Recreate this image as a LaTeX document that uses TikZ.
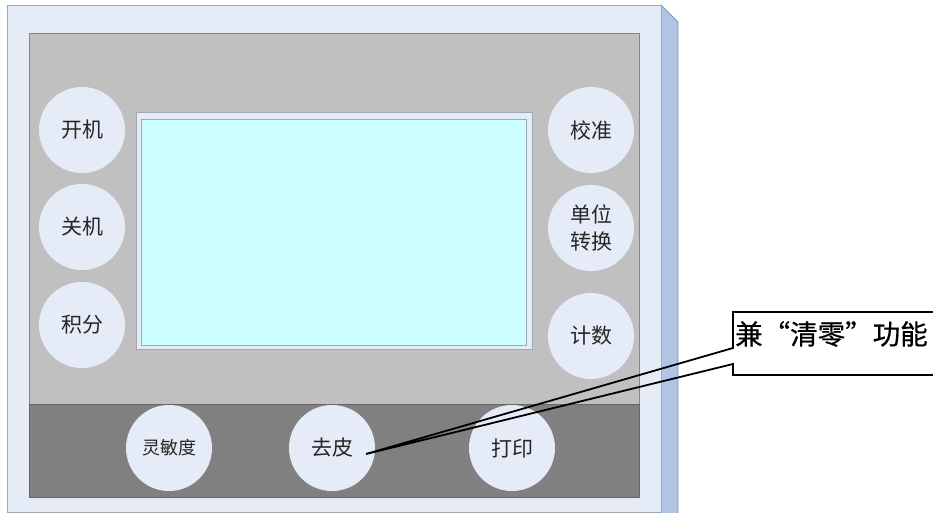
\documentclass[tikz,border=0pt]{standalone}
\usepackage{fontspec}
\setmainfont{Noto Sans CJK SC}
\newfontfamily\notefont[FakeBold=0.6]{Noto Sans CJK SC}
\begin{document}
\begin{tikzpicture}[x=1pt,y=-1pt,
  btn/.style={circle,fill=btnfill,draw=none,minimum size=86pt,inner sep=0pt,
    text=black!85,font=\fontsize{21}{30}\selectfont,align=center},
  smallbtn/.style={btn,font=\fontsize{18}{24}\selectfont},
  callout/.style={draw=black,line width=1.8pt,line join=miter}]
\definecolor{panel}{HTML}{E6ECF7}
\definecolor{panelborder}{HTML}{A0A8B4}
\definecolor{sideface}{HTML}{B0C4E4}
\definecolor{sideborder}{HTML}{8494B4}
\definecolor{midgray}{HTML}{C0C0C0}
\definecolor{darkgray}{HTML}{808080}
\definecolor{screen}{HTML}{CCFFFF}
\definecolor{btnfill}{HTML}{E6ECF7}
\useasboundingbox (0,0) rectangle (933,513);
\clip (0,0) rectangle (933,513);
% side face
\fill[sideface,draw=sideborder,line width=0.8pt] (661,5) -- (678,22) -- (678,520) -- (661,520) -- cycle;
% outer panel
\node[draw=panelborder,fill=panel,line width=0.8pt,minimum width=654pt,minimum height=507pt,anchor=north west,inner sep=0pt] (panel) at (7,5) {};
% inner gray
\node[draw=panelborder!80!black,fill=midgray,line width=0.8pt,minimum width=610pt,minimum height=464pt,anchor=north west,inner sep=0pt] (inner) at (29,33) {};
% dark band
\node[draw=darkgray!80!black,fill=darkgray,line width=0.6pt,minimum width=610pt,minimum height=93pt,anchor=north west,inner sep=0pt] (band) at (29,404) {};
% display
\node[draw=panelborder,fill=panel,line width=0.8pt,minimum width=396pt,minimum height=237pt,anchor=north west,inner sep=0pt] (frame) at (136,112) {};
\node[draw=panelborder,fill=screen,line width=0.6pt,minimum width=385pt,minimum height=226pt,anchor=north west,inner sep=0pt] (screen) at (141,119) {};
% left buttons
\node[btn] (on) at (82,130) {开机};
\node[btn] (off) at (82,227) {关机};
\node[btn] (integ) at (82,325) {积分};
% right buttons
\node[btn] (cal) at (591,130) {校准};
\node[btn] (unit) at (591,228) {单位\\[-3pt]转换};
\node[btn] (count) at (591,336) {计数};
% bottom buttons
\node[smallbtn] (sens) at (169,448) {灵敏度};
\node[btn] (tare) at (332,448) {去皮};
\node[btn] (print) at (512,448) {打印};
% callout
\coordinate (tip) at (366,454);
\coordinate (cA) at (733,312);
\coordinate (cB) at (945,312);
\coordinate (cC) at (945,375);
\coordinate (cD) at (733,375);
\coordinate (cE) at (733,364);
\coordinate (cF) at (733,348);
\fill[white] (cA) rectangle (cC);
\draw[callout] (cF) -- (cA) -- (cB) -- (cC) -- (cD) -- (cE) -- (tip) -- cycle;
\node[anchor=west,inner sep=0pt,font=\notefont\fontsize{27.5}{32}\selectfont] (note) at (735,334) {兼“清零”功能};
\end{tikzpicture}
\end{document}
